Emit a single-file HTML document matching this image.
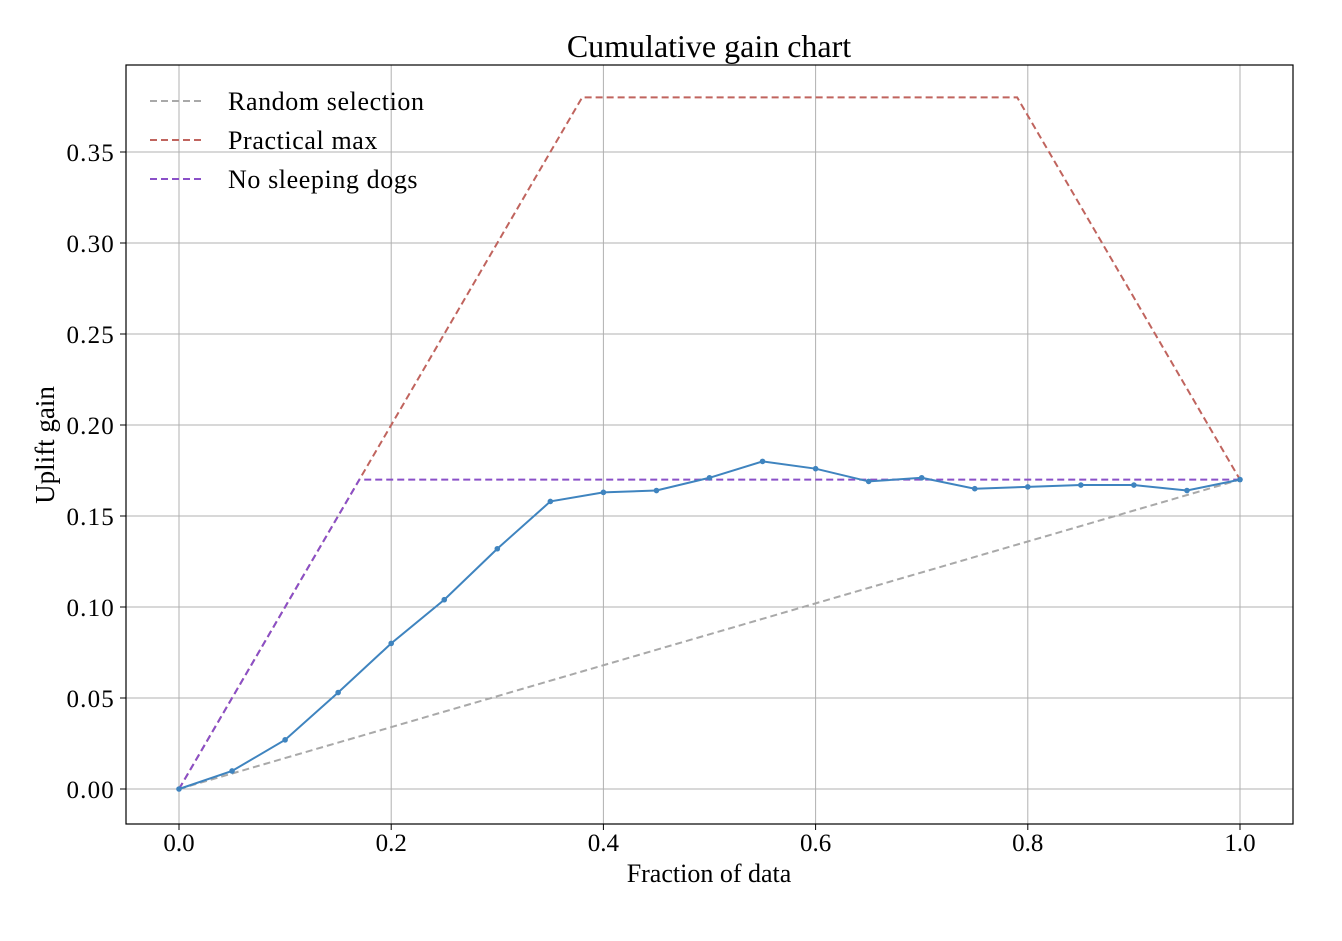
<!DOCTYPE html>
<html><head><meta charset="utf-8"><style>
body{margin:0;background:#fff;}
svg text{font-family:"Liberation Serif","DejaVu Serif",serif;fill:#000;}
</style></head><body>
<svg id="chart" width="1342" height="936" xmlns="http://www.w3.org/2000/svg">
<g id="grid"></g>
<g id="marks"></g>
<g id="axes"></g>
</svg>
<script>
const xFractions=[0,0.05,0.1,0.15,0.2,0.25,0.3,0.35,0.4,0.45,0.5,0.55,0.6,0.65,0.7,0.75,0.8,0.85,0.9,0.95,1.0];
const modelGain=[0,0.0099,0.027,0.053,0.080,0.104,0.132,0.158,0.163,0.164,0.171,0.180,0.176,0.169,0.171,0.165,0.166,0.167,0.167,0.164,0.170];
const randomX=[0,1];
const randomY=[0,0.17];
const practicalX=[0,0.38,0.79,1];
const practicalY=[0,0.38,0.38,0.17];
const dogsX=[0,0.17,1];
const dogsY=[0,0.17,0.17];
const xTicks=[0,0.2,0.4,0.6,0.8,1.0];
const xTickLabels=["0.0","0.2","0.4","0.6","0.8","1.0"];
const yTicks=[0,0.05,0.1,0.15,0.2,0.25,0.3,0.35];
const yTickLabels=["0.00","0.05","0.10","0.15","0.20","0.25","0.30","0.35"];

const L=126,R=1293,T=65,B=824;
const sx=v=>179+v*1061;
const sy=v=>789-v*1820;
const NS="http://www.w3.org/2000/svg";
function mk(tag,parent,attrs){const e=document.createElementNS(NS,tag);for(const k in attrs)e.setAttribute(k,attrs[k]);parent.appendChild(e);return e;}
const grid=document.getElementById('grid'),marks=document.getElementById('marks'),axes=document.getElementById('axes');

xTicks.forEach((t,i)=>{
 const g=mk('line',grid,{x1:sx(t),x2:sx(t),y1:T,y2:B,stroke:'#b0b0b0','stroke-width':1});
 
 
 mk('line',axes,{x1:sx(t),x2:sx(t),y1:B,y2:B+6,stroke:'#000'});
 const tx=mk('text',axes,{x:sx(t),y:B+27,'text-anchor':'middle','font-size':25});
 tx.textContent=xTickLabels[i];
 
 
});
yTicks.forEach((t,i)=>{
 const g=mk('line',grid,{x1:L,x2:R,y1:sy(t),y2:sy(t),stroke:'#b0b0b0','stroke-width':1});
 
 
 mk('line',axes,{x1:L-6,x2:L,y1:sy(t),y2:sy(t),stroke:'#000'});
 const tx=mk('text',axes,{x:L-11,y:sy(t)+9,'text-anchor':'end','font-size':25,'letter-spacing':1.2});
 tx.textContent=yTickLabels[i];
 
 
});
const frame=mk('rect',axes,{x:L,y:T,width:R-L,height:B-T,fill:'none',stroke:'#000','stroke-width':1.2});



function line(xs,ys,color,dash,name){
 const p=mk('polyline',marks,{points:xs.map((x,i)=>sx(x)+','+sy(ys[i])).join(' '),fill:'none',stroke:color,'stroke-width':2,'stroke-dasharray':dash||''});
 
 
}
line(randomX,randomY,'#a9a9a9','7,4','random-selection-line');
line(practicalX,practicalY,'#c0645e','7,4','practical-max-line');
line(dogsX,dogsY,'#8a50c8','7,4','no-sleeping-dogs-line');
line(xFractions,modelGain,'#3f84bf','','model-gain-line');
xFractions.forEach((x,i)=>{
 const c=mk('circle',marks,{cx:sx(x),cy:sy(modelGain[i]),r:2.8,fill:'#3f84bf'});
 
 
});

const legend=[['Random selection','#a9a9a9'],['Practical max','#c0645e'],['No sleeping dogs','#8a50c8']];
legend.forEach((e,i)=>{
 const y=101+i*39;
 const l=mk('line',axes,{x1:150,x2:205,y1:y,y2:y,stroke:e[1],'stroke-width':2,'stroke-dasharray':'7,4'});
 
 
 const t=mk('text',axes,{x:228,y:y+9,'font-size':26,'letter-spacing':0.6});
 t.textContent=e[0];
 
 
});
const title=mk('text',axes,{x:709,y:57,'text-anchor':'middle','font-size':32});
title.textContent='Cumulative gain chart';


const xl=mk('text',axes,{x:709,y:882,'text-anchor':'middle','font-size':26});
xl.textContent='Fraction of data';


const yl=mk('text',axes,{x:0,y:0,'text-anchor':'middle','font-size':27,transform:'translate(54,445) rotate(-90)'});
yl.textContent='Uplift gain';


</script>
</body></html>
